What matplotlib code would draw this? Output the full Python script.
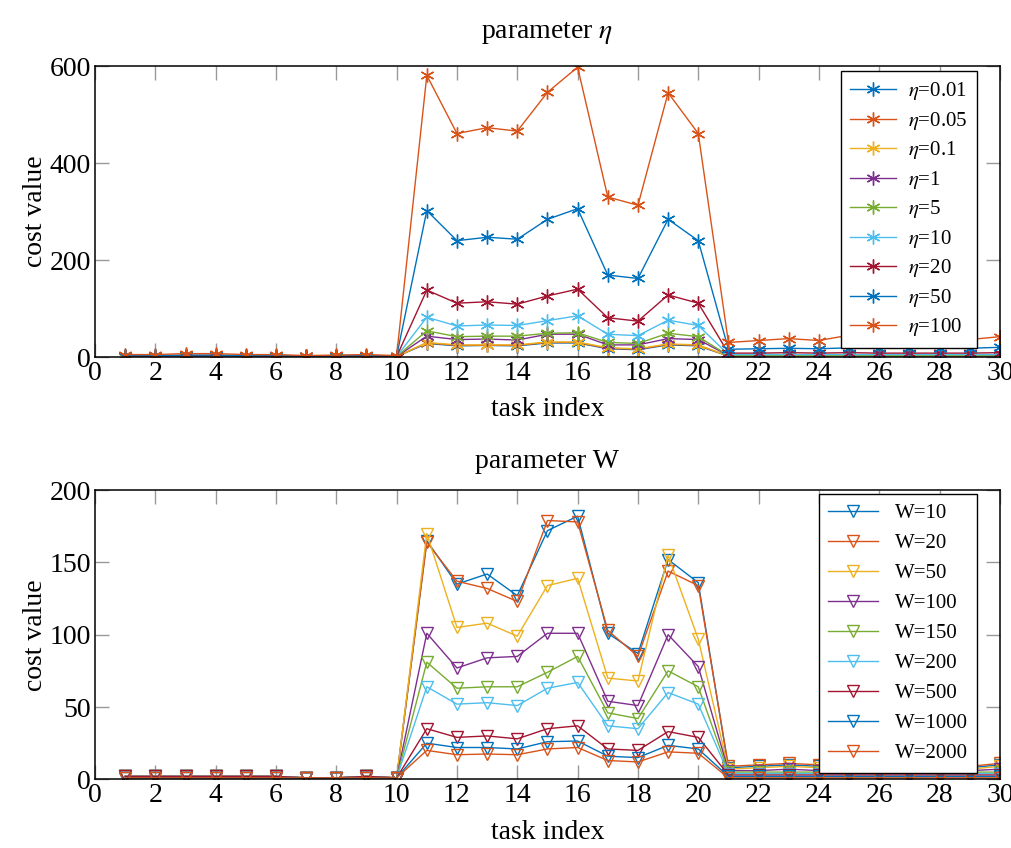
import numpy as np
import matplotlib
matplotlib.use("Agg")
import matplotlib.pyplot as plt

plt.rcParams['font.family'] = ['Liberation Serif', 'DejaVu Serif']
plt.rcParams['mathtext.fontset'] = 'stix'

colors = ['#0072BD', '#D95319', '#EDB120', '#7E2F8E', '#77AC30', '#4DBEEE', '#A2142F']

tasks = np.arange(1, 31)

# parameter eta
eta_labels = ['0.01', '0.05', '0.1', '1', '5', '10', '20', '50', '100']
eta_001 = [1, 1, 1, 1, 1, 1, 1, 1, 1, 1, 28, 23, 24, 23, 29, 29, 17, 15, 25, 23,
           2, 2, 2, 2, 2, 2, 2, 2, 2, 2]
eta_005 = [1, 1, 1, 1, 1, 1, 1, 1, 1, 1, 29, 24, 24, 24, 30, 30, 18, 16, 26, 24,
           2, 2, 2, 2, 2, 2, 2, 2, 2, 2]
eta_01 = [1, 1, 1, 1, 1, 1, 1, 1, 1, 1, 30, 25, 25, 25, 31, 31, 19, 17, 27, 25,
          2, 2, 2, 2, 2, 2, 2, 2, 2, 2]
eta_1 = [1, 1, 2, 2, 1, 1, 1, 1, 1, 1, 43, 36, 37, 35, 47, 47, 25, 25, 38, 36,
         3, 3, 3, 3, 3, 3, 3, 3, 3, 3]
eta_5 = [1, 1, 2, 2, 1, 1, 1, 1, 1, 1, 54, 42, 43, 43, 49, 50, 30, 28, 49, 42,
         3, 3, 3, 3, 3, 3, 3, 3, 3, 4]
eta_10 = [2, 2, 2, 2, 2, 2, 1, 2, 2, 1, 82, 64, 66, 65, 75, 85, 47, 44, 76, 65,
          5, 5, 5, 5, 5, 5, 5, 5, 5, 5]
eta_20 = [2, 2, 3, 3, 2, 2, 2, 2, 2, 1, 138, 111, 114, 109, 126, 140, 81, 74, 128, 111,
          8, 8, 9, 8, 9, 8, 8, 8, 8, 9]
eta_50 = [3, 3, 4, 4, 3, 3, 2, 3, 3, 2, 302, 240, 247, 243, 284, 306, 169, 162, 284, 240,
          16, 17, 18, 17, 19, 18, 18, 18, 18, 20]
eta_100 = [5, 5, 7, 7, 5, 5, 3, 4, 5, 3, 581, 461, 473, 466, 546, 598, 330, 313, 545, 461,
           30, 34, 38, 34, 45, 40, 40, 38, 36, 42]
eta_series = [eta_001, eta_005, eta_01, eta_1, eta_5, eta_10, eta_20, eta_50, eta_100]

# parameter W
w_labels = ['10', '20', '50', '100', '150', '200', '500', '1000', '2000']
w_10 = [2, 2, 2, 2, 2, 2, 1, 1, 2, 1, 165, 135, 142, 127, 172, 182, 101, 87, 152, 136,
        8, 9, 10, 9, 8, 8, 8, 8, 8, 10]
w_20 = [2, 2, 2, 2, 2, 2, 1, 1, 2, 1, 164, 137, 132, 123, 179, 178, 103, 85, 144, 134,
        9, 10, 11, 10, 9, 9, 9, 9, 9, 11]
w_50 = [2, 2, 2, 2, 2, 2, 1, 1, 2, 1, 170, 105, 108, 99, 134, 139, 70, 68, 155, 97,
        7, 8, 9, 8, 7, 7, 7, 7, 7, 9]
w_100 = [2, 2, 2, 2, 2, 2, 1, 1, 2, 1, 101, 77, 84, 85, 101, 101, 54, 51, 100, 78,
         6, 6, 7, 6, 6, 6, 6, 6, 6, 7]
w_150 = [2, 2, 2, 2, 2, 2, 1, 1, 2, 1, 81, 63, 64, 64, 74, 85, 46, 42, 75, 64,
         5, 5, 5, 5, 5, 5, 5, 5, 5, 5]
w_200 = [2, 2, 2, 2, 2, 2, 1, 1, 2, 1, 64, 52, 53, 51, 63, 67, 37, 35, 60, 52,
         4, 4, 4, 4, 4, 4, 4, 4, 4, 4]
w_500 = [2, 2, 2, 2, 2, 2, 1, 1, 2, 1, 35, 29, 30, 28, 35, 37, 21, 20, 33, 29,
         3, 3, 3, 3, 3, 3, 3, 3, 3, 3]
w_1000 = [1, 1, 1, 1, 1, 1, 1, 1, 1, 1, 25, 22, 22, 21, 26, 26.5, 16, 15, 23.5, 21,
          2, 2, 2, 2, 2, 2, 2, 2, 2, 2]
w_2000 = [1, 1, 1, 1, 1, 1, 1, 1, 1, 1, 20, 17, 17.5, 17, 21, 22, 13, 12, 19, 18,
          1, 1, 1, 1, 1, 1, 1, 1, 1, 1]
w_series = [w_10, w_20, w_50, w_100, w_150, w_200, w_500, w_1000, w_2000]

fig = plt.figure(figsize=(10.11, 8.48), dpi=100)
ax1 = fig.add_axes([0.094, 0.579, 0.895, 0.343])
ax2 = fig.add_axes([0.094, 0.081, 0.895, 0.341])

FS = 20


def style(ax, ymax, ystep):
    ax.set_xlim(0, 30)
    ax.set_ylim(0, ymax)
    ax.set_xticks(range(0, 31, 2))
    ax.set_yticks(range(0, ymax + 1, ystep))
    ax.tick_params(direction='in', length=10, width=1, color='#999999',
                   top=True, right=True, labelsize=FS, pad=3)
    for s in ax.spines.values():
        s.set_linewidth(1.1)
    ax.set_xlabel('task index', fontsize=FS, labelpad=8)
    ax.set_ylabel('cost value', fontsize=FS, labelpad=1)


asterisk = (6, 2, 0)
for i, (lab, ys) in enumerate(zip(eta_labels, eta_series)):
    ax1.plot(tasks, ys, color=colors[i % 7], marker=asterisk, markersize=10,
             markeredgewidth=1, linewidth=1, label=r'$\eta$=' + lab)
style(ax1, 600, 200)
ax1.set_title(r'parameter $\eta$', fontsize=FS, pad=20)
leg1 = ax1.legend(loc='upper right', bbox_to_anchor=(0.975, 0.983), fontsize=15,
                  fancybox=False, edgecolor='black', framealpha=1,
                  handlelength=2.2, labelspacing=0.36, borderaxespad=0,
                  borderpad=0.45, handletextpad=0.6)
leg1.get_frame().set_linewidth(1)

for i, (lab, ys) in enumerate(zip(w_labels, w_series)):
    ax2.plot(tasks, ys, color=colors[i % 7], marker='v', markersize=9,
             fillstyle='none', markeredgewidth=1, linewidth=1, label='W=' + lab)
style(ax2, 200, 50)
ax2.set_title('parameter W', fontsize=FS, pad=16)
leg2 = ax2.legend(loc='upper right', bbox_to_anchor=(0.975, 0.986), fontsize=15,
                  fancybox=False, edgecolor='black', framealpha=1,
                  handlelength=2.4, labelspacing=0.5, borderaxespad=0,
                  borderpad=0.45, handletextpad=0.8)
leg2.get_frame().set_linewidth(1)

fig.savefig('out.png', dpi=100)
